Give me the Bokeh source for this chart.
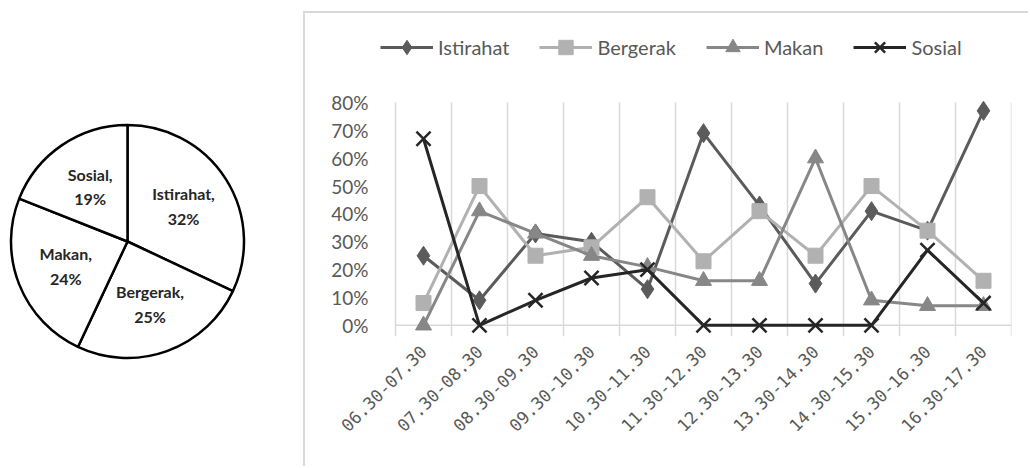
import math
from bokeh.plotting import figure
from bokeh.layouts import row, column
from bokeh.models import (Spacer, FixedTicker, NumeralTickFormatter, Legend,
                          LegendItem, Range1d)
from bokeh.embed import file_html
from bokeh.resources import INLINE
from bokeh.core.properties import value

# ---------------- data ----------------
slots = ["06.30-07.30", "07.30-08.30", "08.30-09.30", "09.30-10.30",
         "10.30-11.30", "11.30-12.30", "12.30-13.30", "13.30-14.30",
         "14.30-15.30", "15.30-16.30", "16.30-17.30"]
istirahat = [25, 9, 33, 30, 13, 69, 43, 15, 41, 34, 77]
bergerak = [8, 50, 25, 28, 46, 23, 41, 25, 50, 34, 16]
makan = [0, 41, 33, 25, 21, 16, 16, 60, 9, 7, 7]
sosial = [67, 0, 9, 17, 20, 0, 0, 0, 0, 27, 8]
y_ticks = [0, 10, 20, 30, 40, 50, 60, 70, 80]

pie_labels = ["Istirahat", "Bergerak", "Makan", "Sosial"]
pie_values = [32, 25, 24, 19]

FONT = "Lato"
GRAY_TXT = "#595959"
GRID = "#d9d9d9"
BORDER = "2px solid #d9d9d9"

# ---------------- pie ----------------
PW, PH = 303, 468
pie = figure(width=PW, height=PH, x_range=Range1d(0, PW), y_range=Range1d(0, PH),
             output_backend="svg", toolbar_location=None, min_border=0)
pie.axis.visible = False
pie.grid.visible = False
pie.outline_line_color = None

cx, cy, R = 127, PH - 241, 116.5
total = sum(pie_values)
starts, ends, lx, ly, ltxt = [], [], [], [], []
a = math.pi / 2
for lab, v in zip(pie_labels, pie_values):
    b = a - v / total * 2 * math.pi
    starts.append(b)
    ends.append(a)
    mid = (a + b) / 2
    lx.append(cx + 0.57 * R * math.cos(mid))
    ly.append(cy + 0.57 * R * math.sin(mid))
    ltxt.append(f"{lab},\n{v}%")
    a = b

pie.wedge(x=cx, y=cy, radius=R, start_angle=starts, end_angle=ends,
          fill_color="white", line_color="black", line_width=2.5)
pie.text(x=lx, y=ly, text=ltxt, text_align="center", text_baseline="middle",
         text_font=value(FONT), text_font_style="bold", text_font_size="16px",
         text_color="#262626", text_line_height=1.3)

# ---------------- line chart ----------------
n = len(slots)
xs = [i + 0.5 for i in range(n)]
bounds = list(range(n + 1))

Y0, Y1 = -0.04, 0.8
# frame: 636 px wide (category area 616 px), 316 px tall (0.84 of value span in 234 px)
x_start = -20 * n / 616
y_end = Y1 + 82 * (Y1 - Y0) / 234

series = [
    ("Istirahat", istirahat, "#5b5b5b", "diamond", 19),
    ("Bergerak", bergerak, "#b1b1b1", "square", 15),
    ("Makan", makan, "#878787", "triangle", 16),
    ("Sosial", sosial, "#262626", "x", 20),
]

p = figure(width=725, height=455, x_range=Range1d(x_start, n), y_range=Range1d(Y0, y_end),
           output_backend="svg", toolbar_location=None,
           min_border_left=70, min_border_right=19, min_border_top=7,
           min_border_bottom=132,
           styles={"border-left": BORDER, "border-top": BORDER})
p.outline_line_color = None
p.grid.visible = False

p.yaxis.ticker = FixedTicker(ticks=[t / 100 for t in y_ticks])
p.yaxis.formatter = NumeralTickFormatter(format="0%")
p.yaxis.axis_line_color = None
p.yaxis.major_tick_line_color = None
p.yaxis.minor_tick_line_color = None
p.yaxis.major_label_standoff = 1
p.yaxis.major_label_text_font = FONT
p.yaxis.major_label_text_font_size = "19px"
p.yaxis.major_label_text_color = GRAY_TXT

p.xaxis.ticker = FixedTicker(ticks=xs)
p.xaxis.major_label_overrides = {x: s for x, s in zip(xs, slots)}
p.xaxis.axis_line_color = None
p.xaxis.major_tick_line_color = None
p.xaxis.minor_tick_line_color = None
p.xaxis.major_label_orientation = math.pi / 4
p.xaxis.major_label_standoff = 6
p.xaxis.major_label_text_font = "DejaVu Sans Mono"
p.xaxis.major_label_text_font_size = "17px"
p.xaxis.major_label_text_color = GRAY_TXT

# category boundary gridlines (extend a little below 0 as tick marks) + base line
p.segment(x0=bounds, y0=[Y0] * len(bounds), x1=bounds, y1=[Y1] * len(bounds),
          line_color=GRID, line_width=1.5)
p.segment(x0=[0], y0=[0], x1=[n], y1=[0], line_color=GRID, line_width=1.5)

items = []
for name, vals, col, mk, sz in series:
    ys = [v / 100 for v in vals]
    rl = p.line(xs, ys, line_color=col, line_width=3)
    if mk == "x":
        rm = p.scatter(xs, ys, marker=mk, size=sz, line_color=col, line_width=2.5)
    else:
        rm = p.scatter(xs, ys, marker=mk, size=sz, fill_color=col, line_color=col)
    items.append(LegendItem(label=name, renderers=[rl, rm]))

legend = Legend(items=items, location=(5, 271), orientation="horizontal",
                glyph_width=53, glyph_height=36, label_height=36,
                label_standoff=5, spacing=30, padding=0, margin=0,
                border_line_color=None, background_fill_alpha=0,
                label_text_font=FONT, label_text_font_size="20px",
                label_text_color=GRAY_TXT)
p.add_layout(legend)

layout = row(pie, column(Spacer(height=11), p))

open("out.html", "w").write(file_html(layout, INLINE))
